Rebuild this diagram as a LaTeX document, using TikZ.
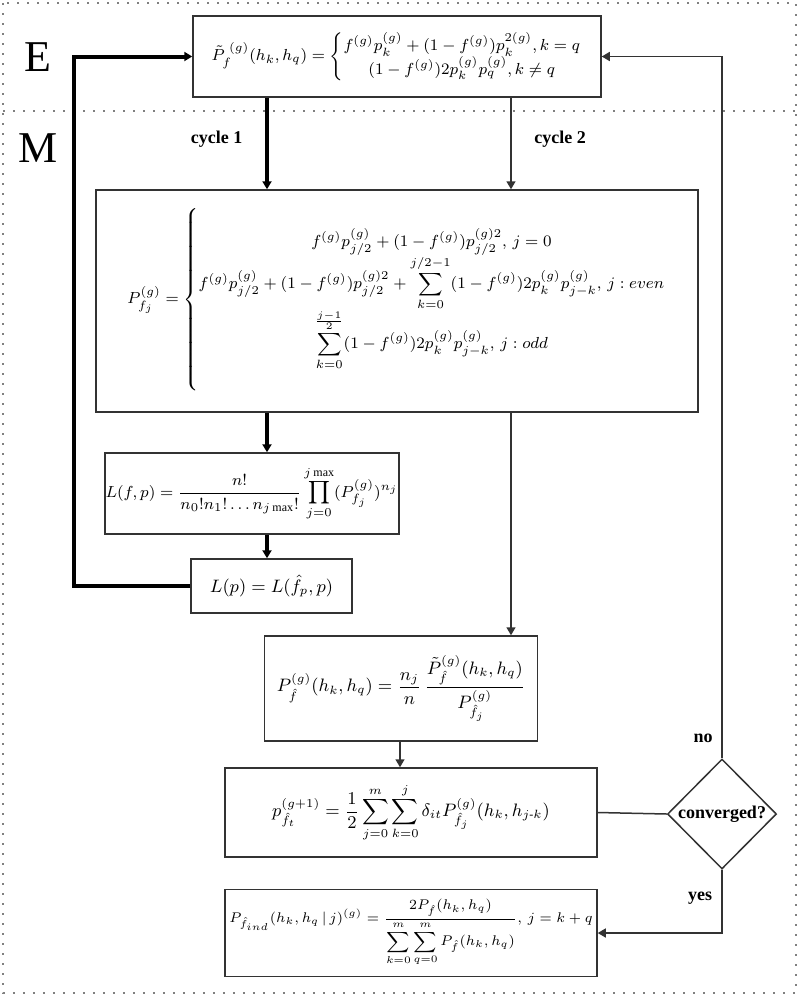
\documentclass[tikz,border=0pt]{standalone}
\usepackage{amsmath}
\usepackage{fontspec}
\setmainfont{Liberation Serif}
\usetikzlibrary{positioning,shapes.geometric,arrows.meta}

\begin{document}
\begin{tikzpicture}[x=0.5pt, y=-0.5pt, node distance=15.5pt,
                    box/.style={draw=black!80,line width=0.75pt,inner sep=0pt,font=\fontsize{8}{10}\selectfont},
                    thin flow/.style={draw=black!80,line width=0.75pt,-{Triangle[length=4pt,width=4.5pt]}},
                    bold flow/.style={draw=black,line width=2pt,-{Triangle[length=4pt,width=4.5pt]}},
                    step label/.style={font=\fontsize{22}{24}\selectfont},
                    edge label/.style={font=\fontsize{9}{11}\selectfont\bfseries}]

      \useasboundingbox (0,0) rectangle (798,996);
      \draw[gray,line width=0.8pt,dash pattern=on 0.8pt off 4.2pt] (3,3) rectangle (796,993);
      \draw[gray,line width=0.8pt,dash pattern=on 0.8pt off 4.2pt] (3,111) -- (796,111);

      \node[step label] (E) at (38,57) {E};
      \node[step label] (M) at (38,148) {M};

      \node[box,minimum width=204pt,minimum height=40.5pt] (1) at (397,56.5)
        {$\tilde{P}_{f}^{\;(g)}(h_k,h_q)=\left\{\begin{array}{@{}c@{}}
          f^{(g)}p_k^{(g)}+(1-f^{(g)})p_k^{2(g)},k=q\\
          (1-f^{(g)})2p_k^{(g)}p_q^{(g)},k\neq q\end{array}\right.$};
      \node[box,minimum width=301pt,minimum height=111pt] (2) at (397,301)
        {$P_{f_j}^{(g)}=\left\{\rule[-45pt]{0pt}{90pt}\begin{array}{@{}c@{}}
          f^{(g)}p_{j/2}^{(g)}+(1-f^{(g)})p_{j/2}^{(g)2},\,j=0\\[1pt]
          f^{(g)}p_{j/2}^{(g)}+(1-f^{(g)})p_{j/2}^{(g)2}+\displaystyle\sum_{k=0}^{j/2-1}(1-f^{(g)})2p_k^{(g)}p_{j-k}^{(g)},\,j:even\\[3pt]
          \displaystyle\sum_{k=0}^{\frac{j-1}{2}}(1-f^{(g)})2p_k^{(g)}p_{j-k}^{(g)},\,j:odd\end{array}\right.$};
      \node[box,minimum width=147pt,minimum height=40.5pt] (3) at (252,493.5)
        {$L(f,p)=\dfrac{n!}{n_0!n_1!\ldots n_{j\max}!}\displaystyle\prod_{j=0}^{j\max}(P_{f_j}^{(g)})^{n_j}$};
      \node[box,minimum width=80.5pt,minimum height=27pt,font=\fontsize{9}{11}\selectfont] (4) at (271.5,586)
        {$L(p)=L(\hat{f}_p,p)$};
      \node[box,minimum width=136.5pt,minimum height=52.5pt,font=\fontsize{8.8}{10}\selectfont] (5) at (401,688.5)
        {$P_{\hat{f}}^{(g)}(h_k,h_q)=\dfrac{n_j}{n}\,\dfrac{\tilde{P}_{\hat{f}}^{(g)}(h_k,h_q)}{P_{\hat{f}_j}^{(g)}}$};
      \node[box,minimum width=186pt,minimum height=44.5pt,font=\fontsize{9}{11}\selectfont] (6) at (411,812.5)
        {$p_{\hat{f}_t}^{(g+1)}=\dfrac{1}{2}\displaystyle\sum_{j=0}^{m}\sum_{k=0}^{j}\delta_{it}P_{\hat{f}_j}^{(g)}(h_k,h_{j\text{-}k})$};
      \node[box,minimum width=186pt,minimum height=43.5pt,font=\fontsize{7.2}{9}\selectfont] (7) [below=of 6]
        {$P_{\hat{f}_{ind}}(h_k,h_q\,|\,j)^{(g)}=\dfrac{2P_{\hat{f}}(h_k,h_q)}{\displaystyle\sum_{k=0}^{m}\sum_{q=0}^{m}P_{\hat{f}}(h_k,h_q)},\,j=k+q$};
      \node[box,diamond,aspect=1,minimum width=54.5pt,minimum height=55pt,
            font=\fontsize{9}{11}\selectfont\bfseries] (8) at (722,814) {converged?};

      \coordinate (c0) at (74,0);
      \coordinate (c1) at (267,0);
      \coordinate (c2) at (511,0);
      \coordinate (c3) at (400,0);

      \draw[bold flow] (1.south -| c1) -- node[edge label,left=8pt,pos=0.45] {cycle 1} (2.north -| c1);
      \draw[thin flow] (1.south -| c2) -- node[edge label,right=8pt,pos=0.45] {cycle 2} (2.north -| c2);
      \draw[bold flow] (2.south -| c1) -- (3.north -| c1);
      \draw[bold flow] (3.south -| c1) -- (4.north -| c1);
      \draw[bold flow] (4.west) -- (4.west -| c0) |- (1.west);
      \draw[thin flow] (2.south -| c2) -- (5.north -| c2);
      \draw[thin flow] (5.south -| c3) -- (6.north -| c3);
      \draw[draw=black!80,line width=0.75pt] (6.east) -- (8.west);
      \draw[thin flow] (8.north) |- (1.east);
      \draw[thin flow] (8.south) |- (7.east);

      \node[edge label] (no) at (703,738) {no};
      \node[edge label] (yes) at (700,898) {yes};

\end{tikzpicture}
\end{document}
